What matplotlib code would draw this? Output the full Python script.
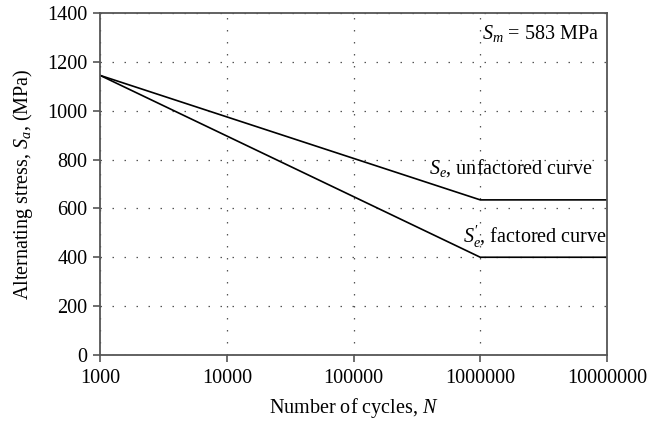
import matplotlib
matplotlib.use("Agg")
import matplotlib.pyplot as plt
from matplotlib.ticker import FixedLocator, FixedFormatter, NullLocator

plt.rcParams['font.family'] = ['Liberation Serif', 'DejaVu Serif']
plt.rcParams['mathtext.fontset'] = 'custom'
plt.rcParams['mathtext.rm'] = 'Liberation Serif'
plt.rcParams['mathtext.it'] = 'Liberation Serif:italic'

cycles = [1000, 1000000, 10000000]
unfactored = [1145, 635, 635]
factored = [1145, 400, 400]
xticks = [1000, 10000, 100000, 1000000, 10000000]
xtick_labels = ['1000', '10000', '100000', '1000000', '10000000']
yticks = [0, 200, 400, 600, 800, 1000, 1200, 1400]

FS = 14.5

fig = plt.figure(figsize=(6.63, 4.24), dpi=100)
ax = fig.add_axes([0.151, 0.163, 0.7645, 0.806])

ax.plot(cycles, unfactored, color='black', lw=1.2)
ax.plot(cycles, factored, color='black', lw=1.2)

ax.set_xscale('log')
ax.set_xlim(1000, 10000000)
ax.set_ylim(0, 1400)
ax.xaxis.set_major_locator(FixedLocator(xticks))
ax.xaxis.set_major_formatter(FixedFormatter(xtick_labels))
ax.xaxis.set_minor_locator(NullLocator())
ax.set_yticks(yticks)

ax.grid(True, color='#555555', linestyle=(0, (1.2, 8.4)), linewidth=0.9)
for s in ax.spines.values():
    s.set_color('#555555')
    s.set_linewidth(1.3)
ax.tick_params(direction='out', length=5, color='#555555', labelsize=FS, width=1.2)
ax.tick_params(axis='x', pad=5)
ax.tick_params(axis='y', pad=4)

ax.set_xlabel('Number of cycles, $N$', fontsize=FS, labelpad=6)
ax.set_ylabel('Alternating stress, $S_a$, (MPa)', fontsize=FS, labelpad=9)

ax.text(0.984, 1318, '$S_m$ = 583 MPa', transform=ax.get_yaxis_transform(), ha='right', va='center', fontsize=FS)
ax.text(0.972, 766, "$S_e$, unfactored curve", transform=ax.get_yaxis_transform(), ha='right', va='center', fontsize=FS)
ax.text(1.0, 483, "$S_e'$, factored curve", transform=ax.get_yaxis_transform(), ha='right', va='center', fontsize=FS)

fig.savefig('out.png', dpi=100)
